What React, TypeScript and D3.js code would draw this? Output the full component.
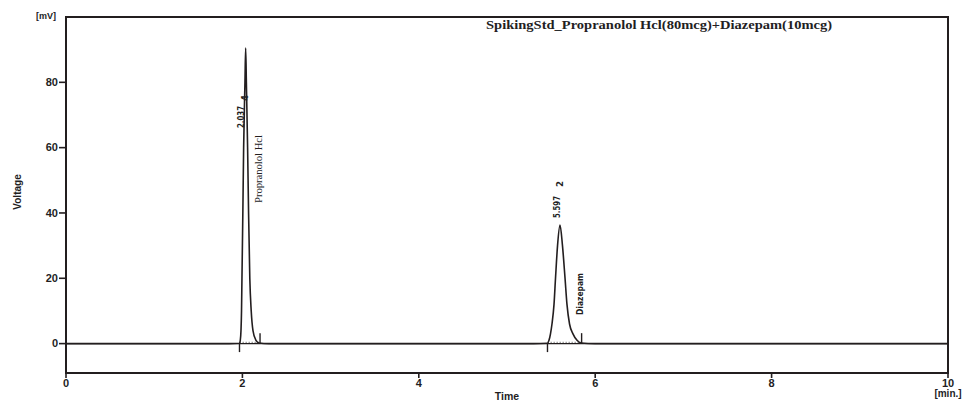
import React from "react";
import * as d3 from "d3";

// ---- data ----
const traceTime = [
  0, 1.85, 1.967, 1.976, 1.984, 1.99, 1.995, 2.005, 2.014, 2.029, 2.037, 2.045, 2.059, 2.07, 2.084, 2.1, 2.12,
  2.154, 2.188, 2.3, 5.3, 5.459, 5.476, 5.493, 5.51, 5.533, 5.55, 5.573, 5.601, 5.629, 5.658, 5.68, 5.709,
  5.748, 5.794, 5.839, 6.0, 10,
];
const traceVoltage = [
  0, 0, 0.1, 1, 4, 10, 20, 40, 60, 80, 90.5, 80, 60, 40, 20, 10, 4,
  1, 0.2, 0, 0, 0.1, 1, 3, 6, 12, 20, 30, 36.3, 30, 20, 12, 6,
  3, 1, 0.2, 0, 0,
];
const peakRetention = ["2.037", "5.597"];
const peakRetentionTime = [2.037, 5.597];
const peakNumber = ["4", "2"];
const peakStart = [1.967, 5.459];
const peakEnd = [2.2, 5.846];
const compoundNames = ["Propranolol Hcl", "Diazepam"];
const xTicks = [0, 2, 4, 6, 8, 10];
const yTicks = [0, 20, 40, 60, 80];
const titleText = "SpikingStd_Propranolol Hcl(80mcg)+Diazepam(10mcg)";

const W = 968;
const H = 401;
const INK = "#231e1f";
const AXIS_FONT = "'Liberation Sans', Arial, sans-serif";
const NARROW_FONT = "'Liberation Sans Narrow', 'DejaVu Sans Condensed', 'Liberation Sans', sans-serif";
const SERIF = "'Liberation Serif', 'DejaVu Serif', serif";

export default function App() {
  const x = d3.scaleLinear().domain([0, 10]).range([66, 948]);
  const y = d3.scaleLinear().domain([-9, 100]).range([373, 17]);

  const pts: [number, number][] = traceTime.map((t, i) => [t, traceVoltage[i]]);
  const line = d3
    .line<[number, number]>()
    .x((d) => x(d[0]))
    .y((d) => y(d[1]))
    .curve(d3.curveMonotoneX);

  const [x0, x1] = x.range();
  const [yb, yt] = y.range();

  // label layouts (pixel offsets relative to peaks)
  const retLabelPos = [
    { dx: -5, yBottom: 128, numDx: -1, numY: 101 },
    { dx: -3, yBottom: 218, numDx: 0, numY: 187 },
  ];
  const nameLabelPos = [
    { dx: 16, yBottom: 203, size: 11, len: 68, font: SERIF, weight: 400 },
    { dx: 23, yBottom: 315, size: 9.5, len: 42, font: NARROW_FONT, weight: 700 },
  ];

  return (
    <svg
      width={W}
      height={H}
      style={{ position: "absolute", left: 0, top: 0, background: "#fff" }}
      xmlns="http://www.w3.org/2000/svg"
    >
      <rect x={0} y={0} width={W} height={H} fill="#fff" />

      {/* zero baseline */}
      <line x1={x0} x2={x1} y1={y(0)} y2={y(0)} stroke={INK} strokeWidth={1.4} />

      {/* integration baselines (dotted) */}
      {peakStart.map((s, i) => (
        <line
          key={"bl" + i}
          x1={x(s)}
          x2={x(peakEnd[i])}
          y1={y(0.4)}
          y2={y(0.4)}
          stroke="#888"
          strokeWidth={1}
          strokeDasharray="1.5,1.5"
        />
      ))}

      {/* trace */}
      <path d={line(pts) || ""} fill="none" stroke={INK} strokeWidth={1.6} />

      {/* peak start/end markers */}
      {peakStart.map((s, i) => (
        <line key={"ps" + i} x1={x(s)} x2={x(s)} y1={y(0)} y2={y(-2.6)} stroke={INK} strokeWidth={1.4} />
      ))}
      {peakEnd.map((e, i) => (
        <line key={"pe" + i} x1={x(e)} x2={x(e)} y1={y(0)} y2={y(3.2)} stroke={INK} strokeWidth={1.4} />
      ))}

      {/* frame */}
      <rect x={x0} y={yt} width={x1 - x0} height={yb - yt} fill="none" stroke={INK} strokeWidth={2} />

      {/* y ticks */}
      {yTicks.map((t) => (
        <g key={"yt" + t}>
          <line x1={x0 - 7} x2={x0} y1={y(t)} y2={y(t)} stroke={INK} strokeWidth={1.6} />
          <text
            x={x0 - 8}
            y={y(t)}
            dy="0.35em"
            textAnchor="end"
            fontFamily={AXIS_FONT}
            fontWeight={700}
            fontSize={11}
            fill={INK}
          >
            {t}
          </text>
        </g>
      ))}

      {/* x ticks */}
      {xTicks.map((t) => (
        <g key={"xt" + t}>
          <line x1={x(t)} x2={x(t)} y1={yb} y2={yb + 5} stroke={INK} strokeWidth={1.6} />
          <text
            x={x(t)}
            y={yb + 14}
            textAnchor="middle"
            fontFamily={AXIS_FONT}
            fontWeight={700}
            fontSize={11}
            fill={INK}
          >
            {t}
          </text>
        </g>
      ))}

      {/* axis units / titles */}
      <text x={46} y={19} textAnchor="middle" fontFamily={AXIS_FONT} fontWeight={700} fontSize={9} fill={INK}>
        [mV]
      </text>
      <text x={x1} y={yb + 24} textAnchor="middle" fontFamily={AXIS_FONT} fontWeight={700} fontSize={10} fill={INK}>
        [min.]
      </text>
      <text
        transform={`translate(21,192) rotate(-90)`}
        textAnchor="middle"
        fontFamily={AXIS_FONT}
        fontWeight={700}
        fontSize={10}
        fill={INK}
      >
        Voltage
      </text>
      <text x={507} y={400} textAnchor="middle" fontFamily={AXIS_FONT} fontWeight={700} fontSize={10.5} fill={INK}>
        Time
      </text>

      {/* title */}
      <text
        x={486}
        y={29}
        fontFamily={SERIF}
        fontWeight={700}
        fontSize={12.5}
        textLength={346}
        lengthAdjust="spacingAndGlyphs"
        fill={INK}
      >
        {titleText}
      </text>

      {/* peak retention time & number labels */}
      {peakRetentionTime.map((t, i) => {
        const p = retLabelPos[i];
        const px = x(t) + p.dx;
        const nx = x(t) + p.numDx + 3;
        return (
          <g key={"rl" + i}>
            <text
              transform={`translate(${px + 3},${p.yBottom}) rotate(-90)`}
              fontFamily={NARROW_FONT}
              fontWeight={700}
              fontSize={9.5}
              textLength={22}
              lengthAdjust="spacingAndGlyphs"
              fill={INK}
            >
              {peakRetention[i]}
            </text>
            <text
              transform={`translate(${nx},${p.numY}) rotate(-90)`}
              fontFamily={NARROW_FONT}
              fontWeight={700}
              fontSize={9.5}
              fill={INK}
            >
              {peakNumber[i]}
            </text>
          </g>
        );
      })}

      {/* compound names */}
      {peakRetentionTime.map((t, i) => {
        const p = nameLabelPos[i];
        return (
          <text
            key={"cn" + i}
            transform={`translate(${x(t) + p.dx},${p.yBottom}) rotate(-90)`}
            fontFamily={p.font}
            fontWeight={p.weight}
            fontSize={p.size}
            textLength={p.len}
            lengthAdjust="spacingAndGlyphs"
            fill={INK}
          >
            {compoundNames[i]}
          </text>
        );
      })}
    </svg>
  );
}
